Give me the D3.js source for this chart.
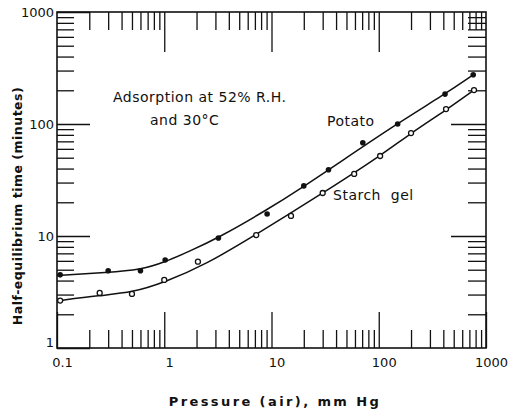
<!DOCTYPE html>
<html>
<head>
<meta charset="utf-8">
<script src="https://cdn.jsdelivr.net/npm/d3@7/dist/d3.min.js"></script>
<style>
  html, body { margin: 0; padding: 0; background: #fff; }
  svg { display: block; }
  text { fill: #111; font-family: "DejaVu Sans", sans-serif; }
</style>
</head>
<body>
<svg id="chart" width="524" height="414"></svg>
<script>
// Half-equilibrium time vs. air pressure (log-log)

// Measured points: potato (filled)
const potatoPressure = [0.107, 0.3, 0.6, 1.02, 3.2, 9.1, 20, 34, 71, 150, 415, 760];
const potatoTime     = [4.5, 4.9, 4.9, 6.1, 9.6, 15.7, 28, 39, 68, 100, 185, 275];

// Measured points: starch gel (open)
const starchPressure = [0.107, 0.25, 0.5, 1.0, 2.06, 7.2, 15.2, 30, 59, 103, 200, 424, 773];
const starchTime     = [2.65, 3.1, 3.04, 4.05, 5.9, 10.2, 15.1, 24.2, 35.8, 51.8, 83, 136, 201];

// Smooth fitted curves
const potatoCurveP = [0.1, 0.3, 0.594, 1.02, 1.74, 3.17, 9.08, 19.7, 46.5, 151, 415, 757];
const potatoCurveT = [4.45, 4.72, 4.97, 5.86, 7.35, 9.6, 17.1, 27.4, 47.7, 102, 185, 274];
const starchCurveP = [0.1, 0.252, 0.5, 1.02, 2.4, 7.33, 30.2, 103, 200, 424, 773];
const starchCurveT = [2.63, 2.95, 3.12, 3.88, 5.51, 10.4, 24.2, 51.8, 83.1, 133, 201];

// Axis ticks
const xMajorTicks = [0.1, 1, 10, 100, 1000];
const xTickLabels = ["0.1", "1", "10", "100", "1000"];
const yMajorTicks = [1, 10, 100, 1000];
const yTickLabels = ["1", "10", "100", "1000"];
const minorMultiples = [2, 3, 4, 5, 6, 7, 8, 9];

const svg = d3.select("#chart");
const plotLeft = 57, plotRight = 486, plotTop = 12, plotBottom = 348;
const majorLen = 36, minorLen = 18;

const x = d3.scaleLog().domain([0.1, 1000]).range([plotLeft, plotRight]);
const y = d3.scaleLog().domain([1, 1000]).range([plotBottom, plotTop]);

const xMinor = xMajorTicks.slice(0, -1).flatMap(d => minorMultiples.map(m => d * m));
const yMinor = yMajorTicks.slice(0, -1).flatMap(d => minorMultiples.map(m => d * m));

function styleAxis(g) {
  g.select(".domain").remove();
  g.selectAll(".tick line").attr("stroke", "#111").attr("stroke-width", 1.3);
}

// Bottom axis: inward ticks, labels below
svg.append("g").attr("transform", `translate(0,${plotBottom})`)
  .call(d3.axisBottom(x).tickValues(xMinor).tickSize(-minorLen).tickFormat(""))
  .call(styleAxis);
const xAxisG = svg.append("g").attr("transform", `translate(0,${plotBottom})`)
  .call(d3.axisBottom(x).tickValues(xMajorTicks).tickSize(-majorLen).tickPadding(10)
    .tickFormat((d, i) => xTickLabels[i]))
  .call(styleAxis);
xAxisG.selectAll(".tick text").attr("x", 5).style("font-size", "13px")
  .style("font-family", "DejaVu Sans, sans-serif").attr("fill", "#111");

// Top axis: inward ticks only
svg.append("g").attr("transform", `translate(0,${plotTop})`)
  .call(d3.axisTop(x).tickValues(xMinor).tickSize(-minorLen).tickFormat(""))
  .call(styleAxis);
svg.append("g").attr("transform", `translate(0,${plotTop})`)
  .call(d3.axisTop(x).tickValues(xMajorTicks.slice(1, -1)).tickSize(-40).tickFormat(""))
  .call(styleAxis);

// Left axis: inward ticks, labels at left
svg.append("g").attr("transform", `translate(${plotLeft},0)`)
  .call(d3.axisLeft(y).tickValues(yMinor).tickSize(-minorLen + 1).tickFormat(""))
  .call(styleAxis);
const yAxisG = svg.append("g").attr("transform", `translate(${plotLeft},0)`)
  .call(d3.axisLeft(y).tickValues(yMajorTicks).tickSize(-33).tickPadding(3)
    .tickFormat((d, i) => yTickLabels[i]))
  .call(styleAxis);
yAxisG.selectAll(".tick text").style("font-size", "13px")
  .style("font-family", "DejaVu Sans, sans-serif").attr("fill", "#111");
yAxisG.selectAll(".tick text").filter(d => d === 1).attr("dy", "-0.1em");

// Right axis: inward ticks only
svg.append("g").attr("transform", `translate(${plotRight},0)`)
  .call(d3.axisRight(y).tickValues(yMinor).tickSize(-minorLen).tickFormat(""))
  .call(styleAxis);
svg.append("g").attr("transform", `translate(${plotRight},0)`)
  .call(d3.axisRight(y).tickValues(yMajorTicks.slice(1, -1)).tickSize(-35).tickFormat(""))
  .call(styleAxis);

// Frame
svg.append("rect")
  .attr("x", plotLeft).attr("y", plotTop)
  .attr("width", plotRight - plotLeft).attr("height", plotBottom - plotTop)
  .attr("fill", "none").attr("stroke", "#111").attr("stroke-width", 1.6);

// Fitted curves
const line = d3.line().x(d => x(d[0])).y(d => y(d[1])).curve(d3.curveBasis);
const curves = [
  d3.zip(potatoCurveP, potatoCurveT),
  d3.zip(starchCurveP, starchCurveT)
];
svg.selectAll("path.fit").data(curves).join("path")
  .attr("class", "fit")
  .attr("d", line)
  .attr("fill", "none").attr("stroke", "#111").attr("stroke-width", 1.5);

// Points
svg.selectAll("circle.potato").data(d3.zip(potatoPressure, potatoTime)).join("circle")
  .attr("class", "potato")
  .attr("cx", d => x(d[0])).attr("cy", d => y(d[1])).attr("r", 2.8)
  .attr("fill", "#111");
svg.selectAll("circle.starch").data(d3.zip(starchPressure, starchTime)).join("circle")
  .attr("class", "starch")
  .attr("cx", d => x(d[0])).attr("cy", d => y(d[1])).attr("r", 2.5)
  .attr("fill", "#fff").attr("stroke", "#111").attr("stroke-width", 1.3);

// Annotations
const note = svg.append("g").style("font-size", "14px").style("letter-spacing", "0.5px");
note.append("text").attr("x", 113).attr("y", 102).text("Adsorption at 52% R.H.");
note.append("text").attr("x", 150).attr("y", 125).text("and 30°C");
note.append("text").attr("x", 327).attr("y", 126).text("Potato");
note.append("text").attr("x", 333).attr("y", 200).style("white-space", "pre").text("Starch  gel");

// Axis titles
svg.append("text")
  .attr("x", 275).attr("y", 406).attr("text-anchor", "middle")
  .style("font-size", "13px").style("font-weight", "bold").style("letter-spacing", "2.4px")
  .text("Pressure (air), mm Hg");
svg.append("text")
  .attr("transform", "translate(22,206) rotate(-90)").attr("text-anchor", "middle")
  .style("font-size", "12.5px").style("font-weight", "bold").style("letter-spacing", "0.5px")
  .text("Half-equilibrium time (minutes)");
</script>
</body>
</html>
